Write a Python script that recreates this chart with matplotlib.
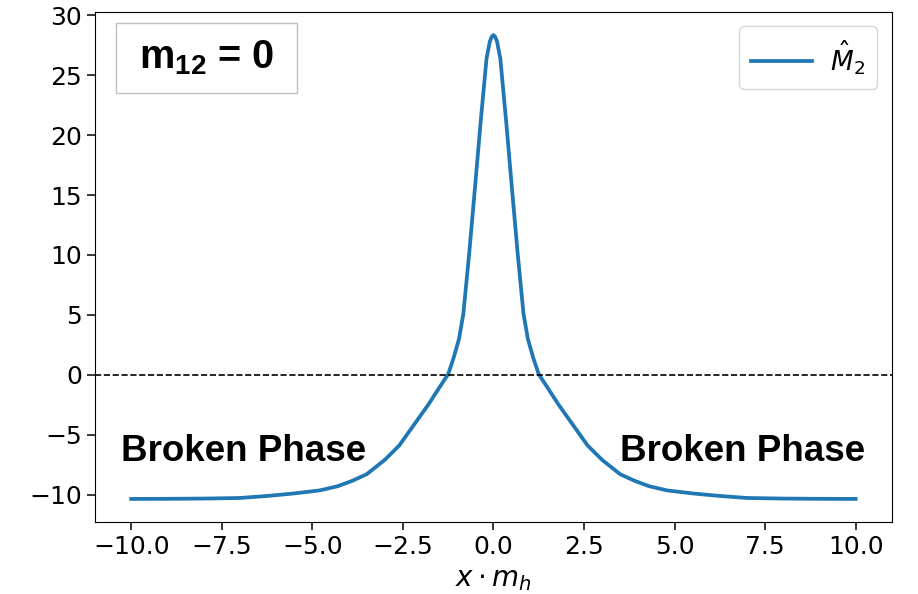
import matplotlib
matplotlib.use("Agg")
import matplotlib.pyplot as plt
from matplotlib.patches import Rectangle

x_vals = [-10.0, -9.0, -8.0, -7.0, -6.2, -5.5, -4.8, -4.3, -3.9, -3.5, -3.0, -2.6,
          -2.2, -1.8, -1.5, -1.25, -1.1, -0.95, -0.83, -0.67, -0.51, -0.35, -0.27,
          -0.19, -0.1, -0.05, 0.0,
          0.05, 0.1, 0.19, 0.27, 0.35, 0.51, 0.67, 0.83, 0.95, 1.1, 1.25, 1.5, 1.8,
          2.2, 2.6, 3.0, 3.5, 3.9, 4.3, 4.8, 5.5, 6.2, 7.0, 8.0, 9.0, 10.0]
m2_vals = [-10.36, -10.35, -10.33, -10.28, -10.1, -9.9, -9.65, -9.3, -8.85, -8.3, -7.1, -5.9,
           -4.2, -2.5, -1.1, 0.05, 1.4, 3.0, 5.1, 10.1, 15.6, 21.2, 23.8,
           26.4, 27.8, 28.2, 28.35,
           28.2, 27.8, 26.4, 23.8, 21.2, 15.6, 10.1, 5.1, 3.0, 1.4, 0.05, -1.1, -2.5,
           -4.2, -5.9, -7.1, -8.3, -8.85, -9.3, -9.65, -9.9, -10.1, -10.28, -10.33, -10.35, -10.36]

legend_label = r"$\hat{M}_2$"
x_label = r"$x \cdot m_h$"
phase_text = "Broken Phase"
box_text = r"$\mathbf{m_{12}}$ = 0"

plt.rcParams["mathtext.bf"] = "Liberation Sans:bold"
plt.rcParams["mathtext.rm"] = "Liberation Sans"

fig = plt.figure(figsize=(9.18, 5.94), dpi=100)
ax = fig.add_axes([0.1035, 0.121, 0.868, 0.859])

ax.plot(x_vals, m2_vals, color="#1f77b4", lw=2.7, label=legend_label)
ax.axhline(0, color="k", ls="--", lw=1.2)

ax.set_xticks([-10, -7.5, -5, -2.5, 0, 2.5, 5, 7.5, 10])
ax.set_yticks([-10, -5, 0, 5, 10, 15, 20, 25, 30])
ax.tick_params(labelsize=18, length=6, width=1.1)
ax.set_xlabel(x_label, fontsize=20, labelpad=4)

ax.text(-10.28, -7.17, phase_text, fontsize=26.5, fontweight="bold",
        family="Liberation Sans", ha="left", va="baseline")
ax.text(3.49, -7.17, phase_text, fontsize=26.5, fontweight="bold",
        family="Liberation Sans", ha="left", va="baseline")

# annotation frame in axes coordinates
ax.add_patch(Rectangle((0.0263, 0.841), 0.227, 0.1375, transform=ax.transAxes,
                       fc="white", ec="#bfbfbf", lw=1, zorder=3))
ax.text(0.14, 0.9096, box_text, transform=ax.transAxes, fontsize=28.5,
        fontweight="bold", family="Liberation Sans", math_fontfamily="custom",
        ha="center", va="center", color="black", zorder=4)

ax.legend(loc="upper right", fontsize=19, handlelength=2.3, borderpad=0.45,
          handletextpad=0.7, borderaxespad=0.55)

fig.savefig("out.png", dpi=100)
